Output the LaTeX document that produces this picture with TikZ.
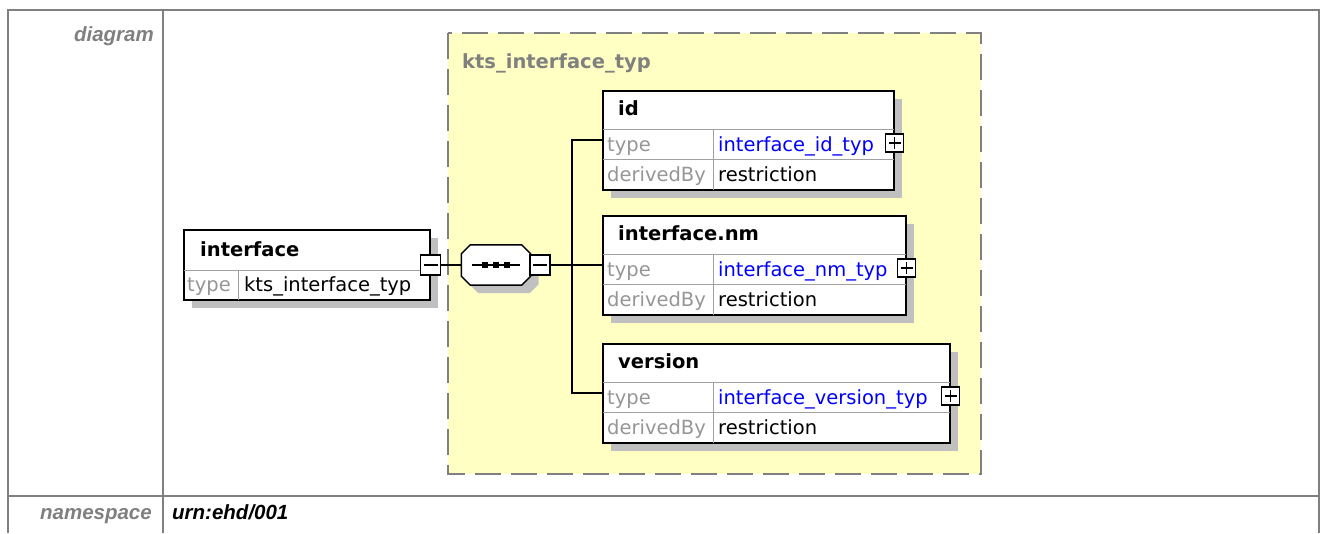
\documentclass[tikz,border=0pt]{standalone}
\usepackage{fontspec}
\setmainfont{Liberation Sans}
\newfontfamily\dvsans{DejaVu Sans}
\usetikzlibrary{calc}
\definecolor{tblgray}{RGB}{128,128,128}
\definecolor{grpyellow}{RGB}{255,255,196}
\definecolor{shadowgray}{RGB}{192,192,192}
\definecolor{keygray}{RGB}{150,150,150}
\definecolor{cellgray}{RGB}{160,160,160}
\definecolor{typeblue}{RGB}{0,0,255}
\tikzset{
    tbl/.style={draw=tblgray, line width=2pt},
    lbl/.style={font=\bfseries\itshape\fontsize{20.5}{24}\selectfont, text=tblgray, inner sep=0pt},
    grpbox/.style={draw=tblgray, line width=2pt, fill=grpyellow, dash pattern=on 26pt off 10pt},
    elbox/.style={draw=black, line width=1.6pt, fill=white, inner sep=0pt, anchor=north west},
    cellline/.style={draw=cellgray, line width=1pt, shorten <=1pt, shorten >=1pt},
    conn/.style={draw=black, line width=1.5pt},
    txt/.style={font=\dvsans\fontsize{19.5}{23}\selectfont, inner sep=0pt, anchor=base west},
    elname/.style={txt, font=\dvsans\bfseries\fontsize{19.5}{23}\selectfont},
    keytxt/.style={txt, text=keygray},
    typetxt/.style={txt, text=typeblue},
    grptitle/.style={elname, text=tblgray},
    pmbox/.style={draw=black, line width=1.3pt, fill=white, minimum size=18pt, inner sep=0pt},
    minus/.style={pmbox, path picture={
        \draw[line width=1.3pt] ([xshift=3pt]path picture bounding box.west) -- ([xshift=-3pt]path picture bounding box.east);}},
    plus/.style={pmbox, path picture={
        \draw[line width=1.3pt] ([xshift=3pt]path picture bounding box.west) -- ([xshift=-3pt]path picture bounding box.east);
        \draw[line width=1.3pt] ([yshift=-3pt]path picture bounding box.north) -- ([yshift=3pt]path picture bounding box.south);}},
    seqbox/.style={rectangle, minimum width=69pt, minimum height=40pt, inner sep=0pt}
}

\begin{document}
\begin{tikzpicture}[x=1pt, y=-1pt]
    \useasboundingbox (0,0) rectangle (1324,533);
    \fill[white] (0,0) rectangle (1324,533);

    \draw[tbl] (8,533) -- (8,10) -- (1319,10) -- (1319,533);
    \draw[tbl] (163,10) -- (163,533);
    \draw[tbl] (8,496) -- (1319,496);
    \node[lbl, anchor=base east] (diag) at (154,41) {diagram};
    \node[lbl, anchor=base east] (ns) at (152,519) {namespace};
    \node[lbl, text=black, anchor=base west] (nsval) at (172,519) {urn:ehd/001};

    \draw[grpbox] (448,33) rectangle (981,474);
    \node[grptitle] (grp-t) at (462,68) {kts\_interface\_typ};

    \fill[shadowgray] (192,238) rectangle ++(246,70);
    \node[elbox, minimum width=246, minimum height=70] (iface) at (183,229) {};
    \draw[cellline] ($(iface.north west)+(0,41)$) -- ($(iface.north east)+(0,41)$);
    \draw[cellline] ($(iface.north west)+(55,41)$) -- ($(iface.south west)+(55,0)$);
    \node[elname] (iface-t) at ($(iface.north west)+(17,27)$) {interface};
    \node[keytxt] (iface-k) at ($(iface.north west)+(4,62)$) {type};
    \node[txt] (iface-v) at ($(iface.north west)+(61,62)$) {kts\_interface\_typ};
    \node[minus, minimum size=20pt] (iface-m) at ($(iface.north east)+(0,36)$) {};

    \node[seqbox] (seq-sh) at (504,273) {};
    \node[seqbox] (seq) at (496,265) {};
    \fill[shadowgray] ($(seq-sh.north west)+(9,0)$) -- ($(seq-sh.north east)+(-9,0)$) -- ($(seq-sh.north east)+(0,9)$)
        -- ($(seq-sh.south east)+(0,-9)$) -- ($(seq-sh.south east)+(-9,0)$) -- ($(seq-sh.south west)+(9,0)$)
        -- ($(seq-sh.south west)+(0,-9)$) -- ($(seq-sh.north west)+(0,9)$) -- cycle;
    \draw[conn, fill=white] ($(seq.north west)+(9,0)$) -- ($(seq.north east)+(-9,0)$) -- ($(seq.north east)+(0,9)$)
        -- ($(seq.south east)+(0,-9)$) -- ($(seq.south east)+(-9,0)$) -- ($(seq.south west)+(9,0)$)
        -- ($(seq.south west)+(0,-9)$) -- ($(seq.north west)+(0,9)$) -- cycle;
    \draw[conn] ($(seq.center)+(-24,0)$) -- ($(seq.center)+(24,0)$);
    \foreach \dx in {-11,0,11} {
        \fill ($(seq.center)+(\dx,0)$) ++(-3,-3) rectangle ++(6,6);
      }
    \node[minus, minimum size=20pt] (seq-m) at (540,265) {};
    \coordinate (fork) at (572,265);
    \draw[conn] (iface-m) -- (seq);
    \draw[conn] (seq-m) -- (fork);

    \foreach \n/\ttl/\typ/\y/\w in {id/id/interface\_id\_typ/90/291,
        nm/interface.nm/interface\_nm\_typ/215/303,
        ver/version/interface\_version\_typ/343/347} {
        \fill[shadowgray] (611,\y+9) rectangle ++(\w,99);
        \node[elbox, minimum width=\w, minimum height=99] (\n) at (602,\y) {};
        \draw[cellline] ($(\n.north west)+(0,39)$) -- ($(\n.north east)+(0,39)$);
        \draw[cellline] ($(\n.north west)+(0,69)$) -- ($(\n.north east)+(0,69)$);
        \draw[cellline] ($(\n.north west)+(111,39)$) -- ($(\n.south west)+(111,0)$);
        \node[elname] (\n-t) at ($(\n.north west)+(16,25)$) {\ttl};
        \node[keytxt] (\n-k) at ($(\n.north west)+(5,61)$) {type};
        \node[typetxt] (\n-v) at ($(\n.north west)+(116,61)$) {\typ};
        \node[keytxt] (\n-d) at ($(\n.north west)+(5,91)$) {derivedBy};
        \node[txt] (\n-r) at ($(\n.north west)+(116,91)$) {restriction};
        \node[plus] (\n-p) at ($(\n.north east)+(0,53)$) {};
        \coordinate (\n-in) at ($(\n.north west)+(0,50)$);
        \draw[conn] (fork) |- (\n-in);
      }
  \end{tikzpicture}
\end{document}
